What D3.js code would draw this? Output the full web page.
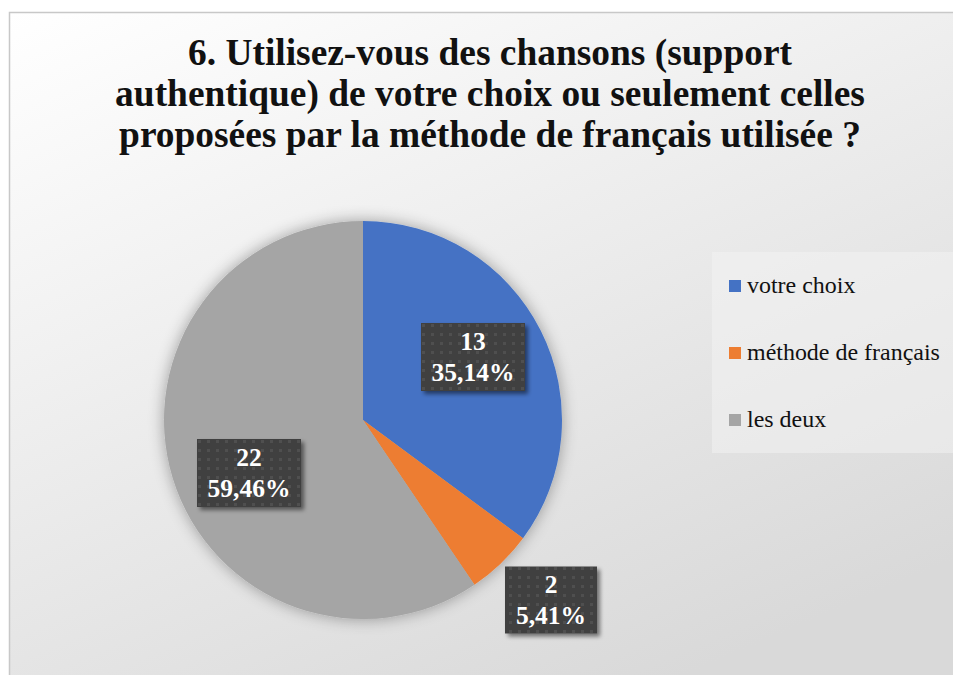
<!DOCTYPE html>
<html><head><meta charset="utf-8">
<script src="https://cdn.jsdelivr.net/npm/d3@7"></script>
<style>html,body{margin:0;padding:0;background:#fff;}svg{display:block;}
.serif{font-family:"Liberation Serif","Tinos","DejaVu Serif","Noto Serif","Liberation Sans",serif;}</style>
</head><body>
<script>
const categories = ["votre choix", "méthode de français", "les deux"];
const values = [13, 2, 22];
const percentLabels = ["35,14%", "5,41%", "59,46%"];
const colors = ["#4472C4", "#ED7D31", "#A5A5A5"];
const titleLines = ["6. Utilisez-vous des chansons (support", "authentique) de votre choix ou seulement celles", "proposées par la méthode de français utilisée ?"];

const W = 953, H = 675;
const svg = d3.select("body").append("svg").attr("width", W).attr("height", H);
const defs = svg.append("defs");

const bg = defs.append("linearGradient").attr("id", "bg").attr("x1", "0").attr("y1", "0").attr("x2", "0.6").attr("y2", "1");
bg.append("stop").attr("offset", "0").attr("stop-color", "#ffffff");
bg.append("stop").attr("offset", "1").attr("stop-color", "#d9d9d9");

const pat = defs.append("pattern").attr("id", "dots").attr("width", 9).attr("height", 9).attr("patternUnits", "userSpaceOnUse");
pat.append("rect").attr("width", 9).attr("height", 9).attr("fill", "#404040");
pat.append("rect").attr("x", 3).attr("y", 3).attr("width", 3).attr("height", 3).attr("fill", "#4f4f4f");

const sh = defs.append("filter").attr("id", "pieShadow").attr("x", "-20%").attr("y", "-20%").attr("width", "140%").attr("height", "140%");
sh.append("feGaussianBlur").attr("in", "SourceAlpha").attr("stdDeviation", 8).attr("result", "b");
sh.append("feComponentTransfer").attr("in", "b").attr("result", "b2").append("feFuncA").attr("type", "linear").attr("slope", 0.35);
const m1 = sh.append("feMerge"); m1.append("feMergeNode").attr("in", "b2"); m1.append("feMergeNode").attr("in", "SourceGraphic");

const bs = defs.append("filter").attr("id", "boxShadow").attr("x", "-20%").attr("y", "-20%").attr("width", "150%").attr("height", "150%");
bs.append("feGaussianBlur").attr("in", "SourceAlpha").attr("stdDeviation", 2).attr("result", "b");
bs.append("feOffset").attr("in", "b").attr("dx", 3).attr("dy", 3).attr("result", "o");
bs.append("feComponentTransfer").attr("in", "o").attr("result", "o2").append("feFuncA").attr("type", "linear").attr("slope", 0.5);
const m2 = bs.append("feMerge"); m2.append("feMergeNode").attr("in", "o2"); m2.append("feMergeNode").attr("in", "SourceGraphic");

// chart area
svg.append("rect").attr("x", 9.5).attr("y", 12.5).attr("width", 980).attr("height", 700)
  .attr("fill", "url(#bg)").attr("stroke", "#c8c8c8").attr("stroke-width", 1.5);

// title
const title = svg.append("text").attr("class", "serif").attr("text-anchor", "middle")
  .attr("font-weight", "bold").attr("fill", "#111");
const tsp = titleLines.map((t, i) => title.append("tspan").attr("x", 490).attr("y", 65 + i * 41).text(t));
{
  title.attr("font-size", 34);
  const w = tsp[2].node().getComputedTextLength();
  title.attr("font-size", Math.min(39, 34 * 742 / w));
}

// pie
const cx = 363, cy = 420, r = 199;
const pie = d3.pie().sort(null).value(d => d)(values);
const arc = d3.arc().innerRadius(0).outerRadius(r);
const g = svg.append("g").attr("transform", `translate(${cx},${cy})`).attr("filter", "url(#pieShadow)");
g.selectAll("path").data(pie).join("path").attr("d", arc).attr("fill", (d, i) => colors[i]);

// labels
const labelPos = [[473, 357], [551, 600], [249, 473]];
let labelSize = null;
pie.forEach((d, i) => {
  const [lx, ly] = labelPos[i];
  const w = i === 1 ? 92 : 104, h = i === 1 ? 67 : 68;
  const lg = svg.append("g").attr("transform", `translate(${lx},${ly})`);
  lg.append("rect").attr("x", -w / 2).attr("y", -h / 2).attr("width", w).attr("height", h)
    .attr("fill", "url(#dots)").attr("filter", "url(#boxShadow)");
  const t = lg.append("text").attr("class", "serif").attr("text-anchor", "middle").attr("fill", "#fff")
    .attr("font-weight", "bold");
  t.append("tspan").attr("x", 0).attr("y", -7).text(d.data);
  const p = t.append("tspan").attr("x", 0).attr("y", 24).text(percentLabels[i]);
  if (labelSize === null) {
    t.attr("font-size", 24);
    labelSize = Math.min(27, 24 * 83 / p.node().getComputedTextLength());
  }
  t.attr("font-size", labelSize);
});

// legend
const leg = svg.append("g");
leg.append("rect").attr("x", 712).attr("y", 252).attr("width", 260).attr("height", 201).attr("fill", "#f4f4f4").attr("opacity", 0.5);
const legTexts = [];
categories.forEach((c, i) => {
  const y = 286 + i * 67;
  leg.append("rect").attr("x", 729).attr("y", y - 6).attr("width", 12).attr("height", 12).attr("fill", colors[i]);
  legTexts.push(leg.append("text").attr("class", "serif").attr("x", 747).attr("y", y + 7)
    .attr("font-size", 22).attr("fill", "#111").text(c));
});
const legSize = Math.min(25, 22 * 193 / legTexts[1].node().getComputedTextLength());
legTexts.forEach(t => t.attr("font-size", legSize));
</script>
</body></html>
